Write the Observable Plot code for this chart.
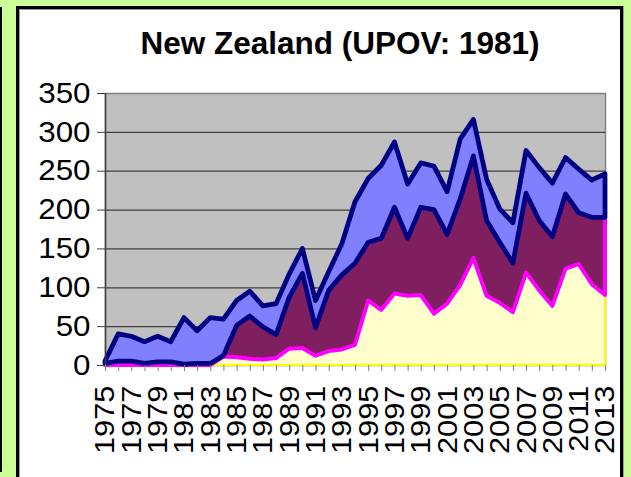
<!DOCTYPE html>
<html><head><meta charset="utf-8">
<script src="https://cdn.jsdelivr.net/npm/d3@7"></script>
<script src="https://cdn.jsdelivr.net/npm/@observablehq/plot@0.6"></script>
<style>
html,body{margin:0;padding:0;width:631px;height:477px;overflow:hidden;background:#CCFF99;font-family:"Liberation Sans",Arial,sans-serif;}
#prev{position:absolute;left:-100px;top:7px;width:100px;height:463px;border-right:2.5px solid #000;border-bottom:2px solid #000;background:#CCFF99;}
#panel{position:absolute;left:16px;top:6px;width:601px;height:520px;border:3px solid #000;background:#fff;box-shadow:1px 0 0 #999, inset 1px 1px 0 #999;}
#title{position:absolute;left:120px;width:440px;top:28px;line-height:1;text-align:center;font-weight:bold;font-size:31.5px;color:#000;white-space:nowrap;}
#chart{position:absolute;left:0;top:0;}
</style></head>
<body>
<div id="prev"></div>
<div id="panel"></div>
<div id="title">New Zealand (UPOV: 1981)</div>
<div id="chart"></div>
<script>
const years = [1975,1976,1977,1978,1979,1980,1981,1982,1983,1984,1985,1986,1987,1988,1989,1990,1991,1992,1993,1994,1995,1996,1997,1998,1999,2000,2001,2002,2003,2004,2005,2006,2007,2008,2009,2010,2011,2012,2013];
const labelYears = [1975,1977,1979,1981,1983,1985,1987,1989,1991,1993,1995,1997,1999,2001,2003,2005,2007,2009,2011,2013];
const yTicks = [0,50,100,150,200,250,300,350];
// stacked layers, bottom to top
const seriesNames = ["Series A","Series B","Series C"];
const seriesA = [0,0,0,0,0,0,0,0,0,11,10,8,7,9,21,22,12,18,20,26,83,71,92,89,90,66,79,103,138,89,80,68,119,96,76,124,130,104,90];
const seriesB = [2,5,5,2,4,4,1,2,2,1,41,55,42,30,66,96,36,78,96,105,75,92,111,74,113,134,89,111,131,97,78,63,102,90,89,96,66,86,100];
const seriesC = [3,35,32,28,33,26,60,42,59,47,32,32,27,40,30,32,35,24,40,79,82,94,84,70,57,56,55,77,47,53,43,52,55,68,69,47,56,48,56];
const fills = ["#FFFFCC","#7F1F5F","#8080FF"];
const strokes = ["#FFFF00","#FF00FF","#000080"];
const widths = [2,4,4.8];

const values = [seriesA, seriesB, seriesC];
const rows = seriesNames.flatMap((s, i) => years.map((yr, j) => ({year: yr, series: s, idx: i, value: values[i][j]})));

const chart = Plot.plot({
  width: 631, height: 477,
  marginLeft: 105, marginRight: 26, marginTop: 93, marginBottom: 112,
  style: {background: "transparent", fontFamily: "'Liberation Sans', Arial, sans-serif", fontSize: "26px", color: "#000", overflow: "visible"},
  x: {domain: [1975, 2013], label: null},
  y: {domain: [0, 350], label: null},
  color: {type: "identity"},
  marks: [
    Plot.frame({fill: "#C0C0C0", stroke: "#808080", strokeWidth: 1.5}),
    Plot.ruleY(yTicks.slice(1, -1), {stroke: "#404040", strokeWidth: 1.2}),
    Plot.areaY(rows, {x: "year", y: "value", z: "series",
      fill: d => fills[d.idx], stroke: d => strokes[d.idx], strokeWidth: d => widths[d.idx]}),
    Plot.ruleX([1975], {stroke: "#404040", strokeWidth: 1.5}),
    Plot.axisY(yTicks, {tickSize: 8, tickPadding: 7, stroke: "#404040", fontSize: 29, label: null}),
    Plot.axisX(years, {tickSize: 6, tickFormat: () => "", stroke: "#808080", label: null}),
    Plot.axisX(labelYears, {tickSize: 0, tickPadding: 20, tickRotate: -90, tickFormat: d => String(d), fontSize: 28, label: null})
  ]
});
document.getElementById("chart").appendChild(chart);
// stretch tick label glyphs like the reference's rendering
chart.querySelectorAll('g[aria-label="x-axis tick label"] text').forEach(t => {
  const L = t.getComputedTextLength();
  t.setAttribute("textLength", L * 1.1);
  t.setAttribute("lengthAdjust", "spacingAndGlyphs");
});
chart.querySelectorAll('g[aria-label="y-axis tick label"] text').forEach(t => {
  const L = t.getComputedTextLength();
  t.setAttribute("textLength", L * 1.08);
  t.setAttribute("lengthAdjust", "spacingAndGlyphs");
});
</script>
</body></html>
